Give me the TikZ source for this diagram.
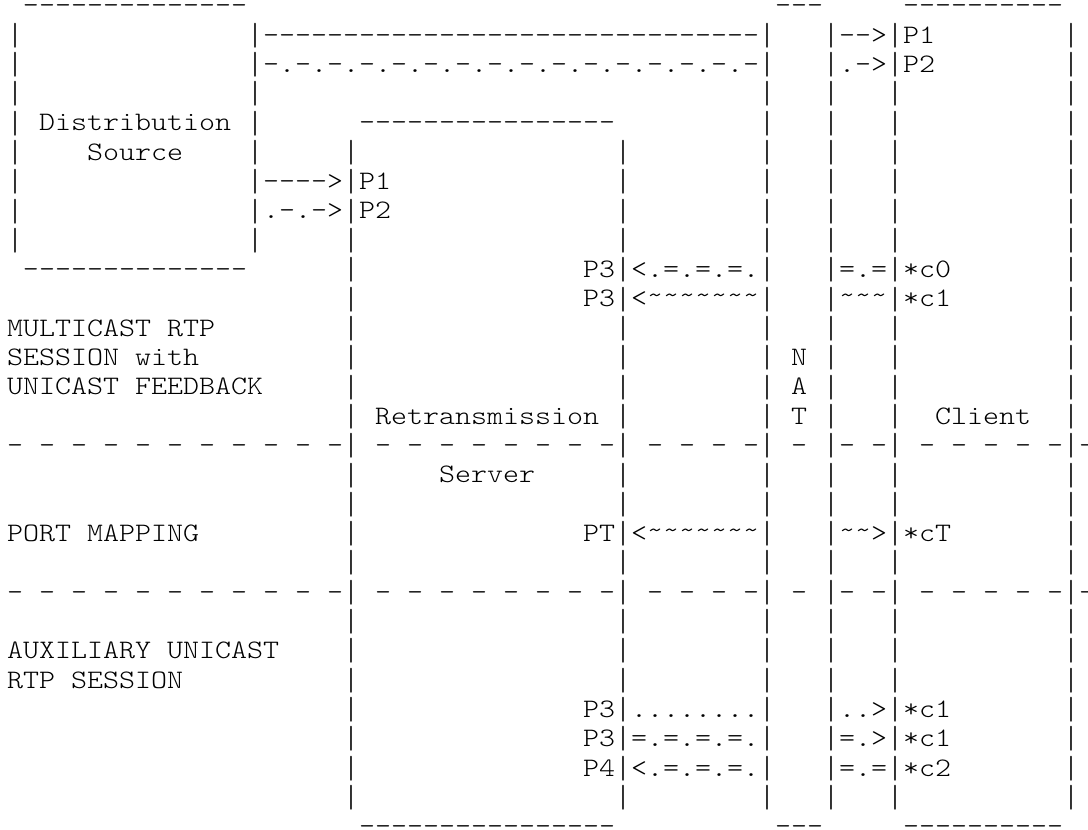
\documentclass[tikz,border=0pt]{standalone}
\usepackage{fontspec}
\setmonofont{lmmonolt10-regular.otf}[FakeStretch=1.1429]
\newcommand\tld{\raisebox{3pt}{\textasciitilde}}
\newcommand\vb{\raisebox{-2.2pt}{\scalebox{1}[1.2]{|}}}
\tikzset{asc/.style={anchor=base west,inner sep=0pt,outer sep=0pt,text=black,
  font=\ttfamily\fontsize{26.667pt}{29.32pt}\selectfont}}
\newcommand\ct[4]{\node[asc] (#1) at ({7+16*(#2)},{816.3-29.32*(#3)}) {#4};}
\begin{document}
\begin{tikzpicture}[x=1pt,y=1pt]
\useasboundingbox (0,0) rectangle (1088,830);
% vertical walls
\foreach \c/\a/\b in {0/1/8, 15/1/8, 21/5/27, 38/5/27, 47/1/27, 51/1/27, 55/1/27, 66/1/27}{
  \foreach \r in {\a,...,\b}{
    \node[asc] (bar-\c-\r) at ({7+16*\c},{816.3-29.32*\r}) {\vb};
  }
}
% row 0
\ct{srcTop}{1}{0}{--------------}
\ct{natTop}{48}{0}{---}
\ct{cliTop}{56}{0}{----------}
% row 1-2
\ct{mc1}{16}{1}{-------------------------------}
\ct{mc1a}{52}{1}{-->}
\ct{cP1}{56}{1}{P1}
\ct{mc2}{16}{2}{-.-.-.-.-.-.-.-.-.-.-.-.-.-.-.-}
\ct{mc2a}{52}{2}{.->}
\ct{cP2}{56}{2}{P2}
% row 4-8
\ct{dist}{2}{4}{Distribution}
\ct{rsTop}{22}{4}{----------------}
\ct{src}{5}{5}{Source}
\ct{a1}{16}{6}{---->}
\ct{sP1}{22}{6}{P1}
\ct{a2}{16}{7}{.-.->}
\ct{sP2}{22}{7}{P2}
% row 9-10
\ct{srcBot}{1}{9}{--------------}
\ct{sP3a}{36}{9}{P3}
\ct{f1}{39}{9}{<.=.=.=.}
\ct{f1b}{52}{9}{=.=}
\ct{cc0}{56}{9}{*c0}
\ct{sP3b}{36}{10}{P3}
\ct{f2}{39}{10}{<\tld\tld\tld\tld\tld\tld\tld}
\ct{f2b}{52}{10}{\tld\tld\tld}
\ct{cc1}{56}{10}{*c1}
% rows 11-14
\ct{lab1}{0}{11}{MULTICAST RTP}
\ct{lab2}{0}{12}{SESSION with}
\ct{natN}{49}{12}{N}
\ct{lab3}{0}{13}{UNICAST FEEDBACK}
\ct{natA}{49}{13}{A}
\ct{rtx}{23}{14}{Retransmission}
\ct{natT}{49}{14}{T}
\ct{cli}{58}{14}{Client}
% separators
\foreach \r in {15,20}{
  \node[asc] (sepA-\r) at ({7+16*0},{816.3-29.32*\r}) {- - - - - - - - - - -};
  \node[asc] (sepB-\r) at ({7+16*23},{816.3-29.32*\r}) {- - - - - - - -};
  \node[asc] (sepC-\r) at ({7+16*40},{816.3-29.32*\r}) {- - - -};
  \node[asc] (sepD-\r) at ({7+16*49},{816.3-29.32*\r}) {-};
  \node[asc] (sepE-\r) at ({7+16*52},{816.3-29.32*\r}) {- -};
  \node[asc] (sepF-\r) at ({7+16*57},{816.3-29.32*\r}) {- - - - -};
  \node[asc] (sepG-\r) at ({7+16*67},{816.3-29.32*\r}) {-};
}
\ct{srv}{27}{16}{Server}
% port mapping
\ct{lab4}{0}{18}{PORT MAPPING}
\ct{sPT}{36}{18}{PT}
\ct{pm1}{39}{18}{<\tld\tld\tld\tld\tld\tld\tld}
\ct{pm2}{52}{18}{\tld\tld>}
\ct{ccT}{56}{18}{*cT}
% auxiliary
\ct{lab5}{0}{22}{AUXILIARY UNICAST}
\ct{lab6}{0}{23}{RTP SESSION}
\ct{uP3a}{36}{24}{P3}
\ct{u1}{39}{24}{........}
\ct{u1b}{52}{24}{..>}
\ct{uc1a}{56}{24}{*c1}
\ct{uP3b}{36}{25}{P3}
\ct{u2}{39}{25}{=.=.=.=.}
\ct{u2b}{52}{25}{=.>}
\ct{uc1b}{56}{25}{*c1}
\ct{uP4}{36}{26}{P4}
\ct{u3}{39}{26}{<.=.=.=.}
\ct{u3b}{52}{26}{=.=}
\ct{uc2}{56}{26}{*c2}
% row 28
\ct{rsBot}{22}{28}{----------------}
\ct{natBot}{48}{28}{---}
\ct{cliBot}{56}{28}{----------}
\end{tikzpicture}
\end{document}
